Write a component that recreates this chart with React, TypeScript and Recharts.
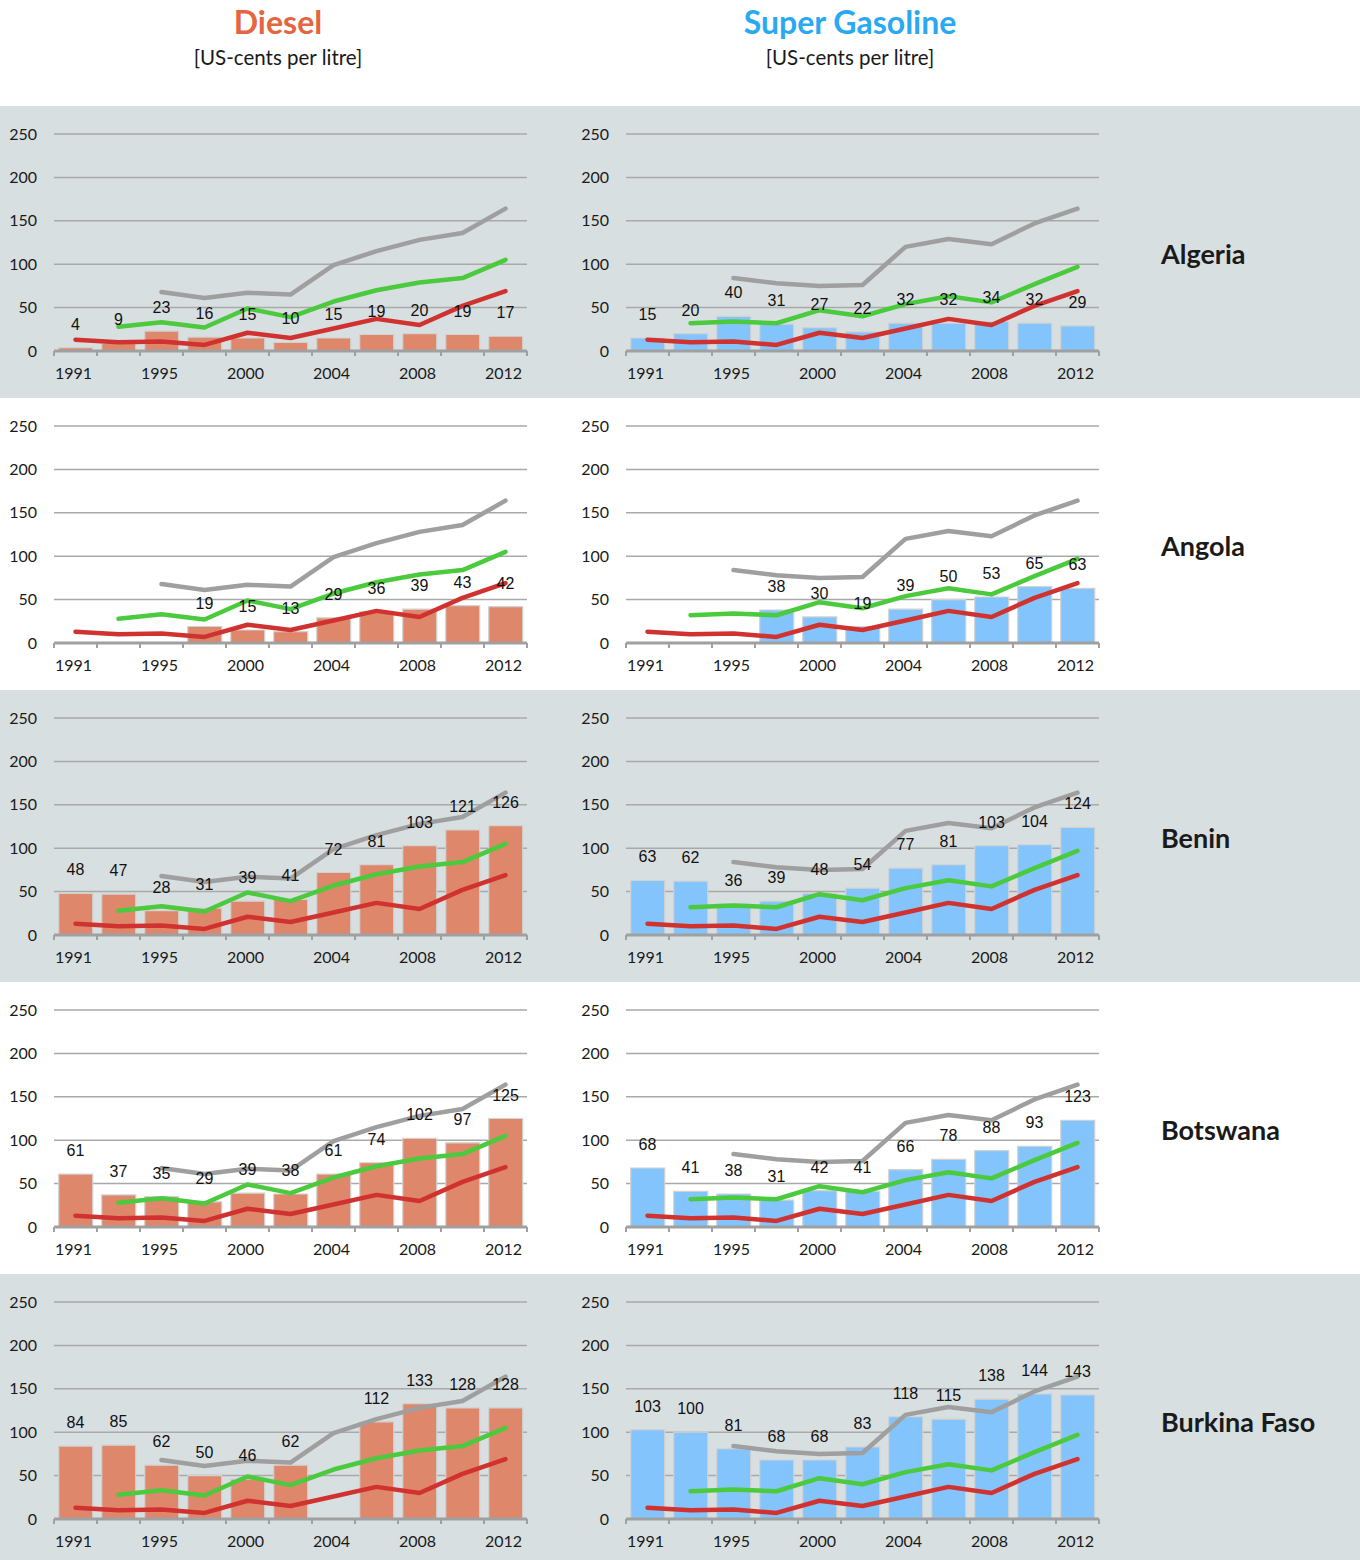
import React from "react";
import {
  ComposedChart,
  Bar,
  Line,
  XAxis,
  YAxis,
  CartesianGrid,
  LabelList,
} from "recharts";

// survey years (x categories)
const years = ["1991", "1993", "1995", "1998", "2000", "2002", "2004", "2006", "2008", "2010", "2012"];
const yTicks = [0, 50, 100, 150, 200, 250];

// reference lines, same in every panel
const dieselGrey = [null, null, 68, 61, 67, 65, 99, 115, 128, 136, 164];
const dieselGreen = [null, 28, 33, 27, 49, 39, 57, 70, 79, 84, 105];
const gasGrey = [null, null, 84, 78, 75, 76, 120, 129, 123, 147, 164];
const gasGreen = [null, 32, 34, 32, 47, 40, 54, 63, 56, 77, 97];
const redRef = [13, 10, 11, 7, 21, 15, 26, 37, 30, 52, 69];

const countries = ["Algeria", "Angola", "Benin", "Botswana", "Burkina Faso"];

const dieselAlgeria = [4, 9, 23, 16, 15, 10, 15, 19, 20, 19, 17];
const dieselAngola = [null, null, null, 19, 15, 13, 29, 36, 39, 43, 42];
const dieselBenin = [48, 47, 28, 31, 39, 41, 72, 81, 103, 121, 126];
const dieselBotswana = [61, 37, 35, 29, 39, 38, 61, 74, 102, 97, 125];
const dieselBurkina = [84, 85, 62, 50, 46, 62, null, 112, 133, 128, 128];

const gasAlgeria = [15, 20, 40, 31, 27, 22, 32, 32, 34, 32, 29];
const gasAngola = [null, null, null, 38, 30, 19, 39, 50, 53, 65, 63];
const gasBenin = [63, 62, 36, 39, 48, 54, 77, 81, 103, 104, 124];
const gasBotswana = [68, 41, 38, 31, 42, 41, 66, 78, 88, 93, 123];
const gasBurkina = [103, 100, 81, 68, 68, 83, 118, 115, 138, 144, 143];

const dieselRows = [dieselAlgeria, dieselAngola, dieselBenin, dieselBotswana, dieselBurkina];
const gasRows = [gasAlgeria, gasAngola, gasBenin, gasBotswana, gasBurkina];

const CHART_W = 540;
const ROW_H = 292;
const PLOT_W = 473;
const BAND = PLOT_W / years.length;
const AXIS_GREY = "#a0a0a0";

const YearTick = (props: any) => {
  const { x, y, index, payload } = props;
  return (
    <g>
      <line x1={x - BAND / 2} y1={y} x2={x - BAND / 2} y2={y + 5} stroke={AXIS_GREY} strokeWidth={2} />
      {index === years.length - 1 && (
        <line x1={x + BAND / 2} y1={y} x2={x + BAND / 2} y2={y + 5} stroke={AXIS_GREY} strokeWidth={2} />
      )}
      {index % 2 === 0 && (
        <text x={x - 2} y={y + 28} textAnchor="middle" fontSize={16} fill="#1a1a1a" fontFamily="Lato">
          {payload.value}
        </text>
      )}
    </g>
  );
};

interface PanelProps {
  values: (number | null)[];
  grey: (number | null)[];
  green: (number | null)[];
  fill: string;
}

const Panel: React.FC<PanelProps> = ({ values, grey, green, fill }) => {
  const data = years.map((year, i) => ({
    year,
    price: values[i],
    grey: grey[i],
    green: green[i],
    red: redRef[i],
  }));
  return (
    <ComposedChart
      width={CHART_W}
      height={ROW_H}
      data={data}
      margin={{ top: 28, right: 13, bottom: 17, left: 0 }}
      barCategoryGap="11%"
    >
      <CartesianGrid vertical={false} stroke="#a9a9a9" strokeWidth={1.5} />
      <XAxis
        dataKey="year"
        interval={0}
        height={30}
        tickSize={0}
        tickMargin={0}
        tickLine={false}
        axisLine={{ stroke: AXIS_GREY, strokeWidth: 3 }}
        tick={<YearTick />}
      />
      <YAxis
        domain={[0, 250]}
        ticks={yTicks}
        interval={0}
        width={54}
        axisLine={false}
        tickLine={false}
        tickSize={0}
        tickMargin={17}
        tick={{ fontSize: 16, fill: "#1a1a1a", fontFamily: "Lato" }}
      />
      <Bar dataKey="price" fill={fill} stroke="#d2d2d2" strokeWidth={1.2} isAnimationActive={false} />
      <Line dataKey="grey" stroke="#9f9f9f" strokeWidth={4.5} dot={false} activeDot={false}
        strokeLinecap="round" strokeLinejoin="round" isAnimationActive={false} />
      <Line dataKey="green" stroke="#4bca3d" strokeWidth={4.5} dot={false} activeDot={false}
        strokeLinecap="round" strokeLinejoin="round" isAnimationActive={false} />
      <Line dataKey="red" stroke="#d03230" strokeWidth={4.5} dot={false} activeDot={false}
        strokeLinecap="round" strokeLinejoin="round" isAnimationActive={false} />
      <Line dataKey="price" stroke="none" strokeWidth={0} dot={false} activeDot={false} isAnimationActive={false}>
        <LabelList
          dataKey="price"
          position="top"
          offset={18}
          fontSize={16}
          fill="#111"
          fontFamily="Liberation Sans, Arial"
        />
      </Line>
    </ComposedChart>
  );
};

export default function App() {
  return (
    <div
      style={{
        position: "absolute",
        left: 0,
        top: 0,
        width: 1360,
        height: 1560,
        background: "#fff",
        overflow: "hidden",
        fontFamily: "Lato",
      }}
    >
      <div style={{ position: "absolute", left: 0, top: 2, width: 556, textAlign: "center", fontSize: 32, lineHeight: "40px", fontWeight: 700, color: "#e4653f" }}>
        Diesel
      </div>
      <div style={{ position: "absolute", left: 0, top: 44, width: 556, textAlign: "center", fontSize: 20.5, lineHeight: "26px", color: "#1a1a1a" }}>
        [US-cents per litre]
      </div>
      <div style={{ position: "absolute", left: 600, top: 2, width: 500, textAlign: "center", fontSize: 32, lineHeight: "40px", fontWeight: 700, color: "#2aa9f3" }}>
        Super Gasoline
      </div>
      <div style={{ position: "absolute", left: 600, top: 44, width: 500, textAlign: "center", fontSize: 20.5, lineHeight: "26px", color: "#1a1a1a" }}>
        [US-cents per litre]
      </div>

      {countries.map((name, i) => (
        <div
          key={name}
          style={{
            position: "absolute",
            left: 0,
            top: 106 + i * ROW_H,
            width: 1360,
            height: ROW_H,
            background: i % 2 === 0 ? "#d8dfe1" : "#ffffff",
          }}
        >
          <div style={{ position: "absolute", left: 0, top: 0 }}>
            <Panel values={dieselRows[i]} grey={dieselGrey} green={dieselGreen} fill="#df876a" />
          </div>
          <div style={{ position: "absolute", left: 572, top: 0 }}>
            <Panel values={gasRows[i]} grey={gasGrey} green={gasGreen} fill="#82c4fb" />
          </div>
          <div
            style={{
              position: "absolute",
              left: 1161,
              top: 148 - 18,
              fontSize: 27,
              lineHeight: "36px",
              fontWeight: 700,
              color: "#1a1a1a",
            }}
          >
            {name}
          </div>
        </div>
      ))}
    </div>
  );
}
